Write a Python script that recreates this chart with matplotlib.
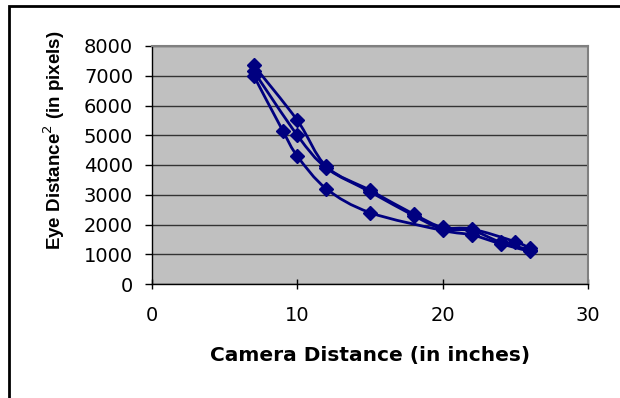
import numpy as np
import matplotlib.pyplot as plt
from matplotlib.path import Path
from matplotlib.patches import PathPatch, Rectangle

plt.rcParams['font.family'] = ['DejaVu Sans']

# camera distance (inches) and squared eye distance (pixels), three runs
x_a = [7, 10, 12, 15, 18, 20, 22, 25, 26]
y_a = [7350, 5500, 3950, 3150, 2350, 1900, 1850, 1420, 1200]
x_b = [7, 10, 12, 15, 18, 20, 22, 24, 26]
y_b = [7150, 5000, 3900, 3100, 2300, 1850, 1800, 1400, 1150]
x_c = [7, 9, 10, 12, 15, 20, 22, 24, 26]
y_c = [7000, 5150, 4300, 3200, 2400, 1800, 1650, 1350, 1100]

navy = '#000080'


def smooth_path(xs, ys):
    # excel-like smoothed line: bezier through the points
    p = np.column_stack([xs, ys]).astype(float)
    verts = [p[0]]
    codes = [Path.MOVETO]
    n = len(p)
    for i in range(n - 1):
        p0 = p[i - 1] if i > 0 else p[i]
        p1 = p[i]
        p2 = p[i + 1]
        p3 = p[i + 2] if i + 2 < n else p[i + 1]
        c1 = p1 + (p2 - p0) / 6.0
        c2 = p2 - (p3 - p1) / 6.0
        verts += [c1, c2, p2]
        codes += [Path.CURVE4] * 3
    return Path(verts, codes)


fig = plt.figure(figsize=(6.2, 3.98), dpi=100)
ax = fig.add_axes([152 / 620, 1 - 284 / 398, 436 / 620, 238 / 398])
ax.set_facecolor('#C0C0C0')

for xs, ys in [(x_a, y_a), (x_b, y_b), (x_c, y_c)]:
    ax.add_patch(PathPatch(smooth_path(xs, ys), fill=False, edgecolor=navy, lw=2.0, zorder=3))
    ax.plot(xs, ys, linestyle='none', marker='D', markersize=7.5, color=navy, zorder=4)

ax.set_xlim(0, 30)
ax.set_ylim(0, 8000)
ax.set_xticks([0, 10, 20, 30])
ax.set_yticks(np.arange(0, 8001, 1000))
ax.yaxis.grid(True, color='#333333', lw=1.0)
ax.set_axisbelow(True)
for s in ['top', 'right']:
    ax.spines[s].set_color('#808080')
    ax.spines[s].set_linewidth(1.5)
for s in ['left', 'bottom']:
    ax.spines[s].set_color('#000000')
    ax.spines[s].set_linewidth(1.0)
ax.tick_params(axis='y', direction='out', length=5, width=1, labelsize=14, pad=8.6)
ax.tick_params(axis='x', direction='inout', length=6.5, width=1, labelsize=14, pad=12.5)

fig.text(54 / 620, 1 - 140 / 398, 'Eye Distance$^2$ (in pixels)', rotation=90,
         ha='center', va='center', fontsize=13.5, fontweight='bold',
         family=['Liberation Sans', 'DejaVu Sans'])
fig.text(370 / 620, 1 - 356 / 398, 'Camera Distance (in inches)',
         ha='center', va='center', fontsize=14.5, fontweight='bold')

fig.patches.append(Rectangle((8.5 / 620, -0.1), 1.2, 1.1 - 6 / 398, transform=fig.transFigure,
                             fill=False, edgecolor='black', lw=2, clip_on=False))

fig.savefig('out.png', dpi=100)
